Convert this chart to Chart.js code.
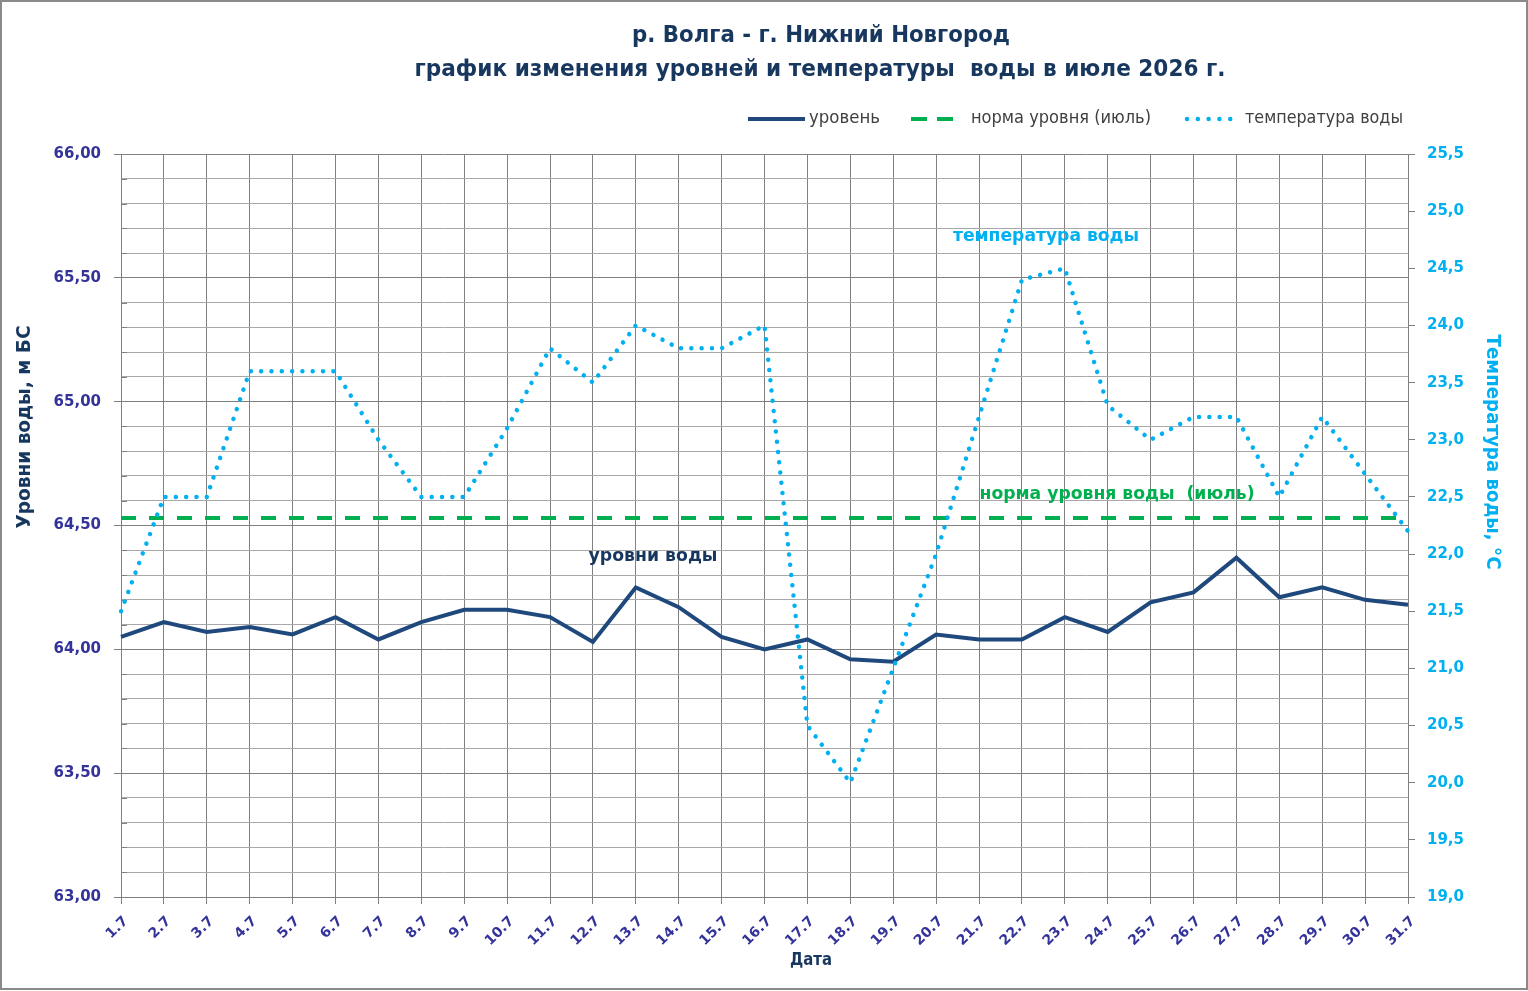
<!DOCTYPE html>
<html>
<head>
<meta charset="utf-8">
<script src="https://cdn.jsdelivr.net/npm/chart.js@4.4.1/dist/chart.umd.min.js"></script>
<style>
  html, body { margin: 0; padding: 0; background: #ffffff; overflow: hidden; }
  #wrap { width: 1528px; height: 991px; position: relative; }
</style>
</head>
<body>
<div id="wrap"><canvas id="c"></canvas></div>
<script>
// ---- data ----
const dates = ['1.7','2.7','3.7','4.7','5.7','6.7','7.7','8.7','9.7','10.7','11.7','12.7','13.7','14.7','15.7','16.7',
               '17.7','18.7','19.7','20.7','21.7','22.7','23.7','24.7','25.7','26.7','27.7','28.7','29.7','30.7','31.7'];
const levelValues = [64.05, 64.11, 64.07, 64.09, 64.06, 64.13, 64.04, 64.11, 64.16, 64.16, 64.13, 64.03, 64.25, 64.17, 64.05, 64.00,
                     64.04, 63.96, 63.95, 64.06, 64.04, 64.04, 64.13, 64.07, 64.19, 64.23, 64.37, 64.21, 64.25, 64.20, 64.18];
const normValues = [64.53, 64.53, 64.53, 64.53, 64.53, 64.53, 64.53, 64.53, 64.53, 64.53, 64.53, 64.53, 64.53, 64.53, 64.53, 64.53,
                    64.53, 64.53, 64.53, 64.53, 64.53, 64.53, 64.53, 64.53, 64.53, 64.53, 64.53, 64.53, 64.53, 64.53, 64.53];
const tempValues = [21.5, 22.5, 22.5, 23.6, 23.6, 23.6, 23.0, 22.5, 22.5, 23.1, 23.8, 23.5, 24.0, 23.8, 23.8, 24.0,
                    20.5, 20.0, 21.0, 22.0, 23.2, 24.4, 24.5, 23.3, 23.0, 23.2, 23.2, 22.5, 23.2, 22.7, 22.2];
const seriesNames = ['уровень', 'норма уровня (июль)', 'температура воды'];
const titleLines = ['р. Волга - г. Нижний Новгород', 'график изменения уровней и температуры  воды в июле 2026 г.'];
const levelAxisTitle = 'Уровни воды, м БС';
const tempAxisTitle = 'Температура воды, °C';
const xAxisTitle = 'Дата';
const annotations = ['температура воды', 'норма уровня воды  (июль)', 'уровни воды'];

// ---- styles ----
const NAVY = '#1F497D';
const TITLE_NAVY = '#17375E';
const GREEN = '#00B050';
const CYAN = '#00B0F0';
const TICK_BLUE = '#333399';
const GRID_MAJOR = '#808080';
const GRID_MINOR = '#a8a8a8';
const FONT = '"DejaVu Sans", Verdana, sans-serif';

function isHalf(v) { return Math.abs(v * 2 - Math.round(v * 2)) < 1e-6; }

function fitText(ctx, text, x, y, o) {
  ctx.save();
  ctx.translate(x, y);
  if (o.rot) ctx.rotate(o.rot);
  ctx.font = o.font;
  ctx.fillStyle = o.color;
  ctx.textBaseline = 'middle';
  ctx.textAlign = o.align || 'center';
  const w = ctx.measureText(text).width;
  if (o.width) ctx.scale(o.width / w, 1);
  ctx.fillText(text, 0, 0);
  ctx.restore();
}

// minor tick marks just inside the left axis
const minorTickPlugin = {
  id: 'minorTicks',
  beforeDatasetsDraw(chart) {
    const ctx = chart.ctx;
    const ys = chart.scales.y;
    ctx.save();
    ctx.strokeStyle = GRID_MAJOR;
    ctx.lineWidth = 1;
    ys.ticks.forEach((t, i) => {
      if (isHalf(t.value)) return;
      const py = Math.round(ys.getPixelForTick(i)) + 0.5;
      ctx.beginPath(); ctx.moveTo(ys.right, py); ctx.lineTo(ys.right + 6, py); ctx.stroke();
    });
    ctx.restore();
  }
};

const decorPlugin = {
  id: 'decor',
  afterDraw(chart) {
    const ctx = chart.ctx;
    // titles
    fitText(ctx, titleLines[0], 821, 36, {font: 'bold 23px ' + FONT, color: TITLE_NAVY, width: 378});
    fitText(ctx, titleLines[1], 820, 70, {font: 'bold 23px ' + FONT, color: TITLE_NAVY, width: 811});
    // legend
    const ds = chart.data.datasets;
    const ly = 119;
    ctx.save();
    ctx.lineWidth = 4;
    ctx.strokeStyle = ds[0].borderColor;
    ctx.beginPath(); ctx.moveTo(748, ly); ctx.lineTo(805, ly); ctx.stroke();
    ctx.strokeStyle = ds[1].borderColor;
    ctx.setLineDash([16, 10]);
    ctx.beginPath(); ctx.moveTo(911, ly); ctx.lineTo(955, ly); ctx.stroke();
    ctx.strokeStyle = ds[2].borderColor;
    ctx.lineCap = 'round';
    ctx.lineWidth = 4.5;
    ctx.setLineDash([0.01, 10.8]);
    ctx.beginPath(); ctx.moveTo(1187, ly); ctx.lineTo(1241, ly); ctx.stroke();
    ctx.restore();
    fitText(ctx, seriesNames[0], 809, ly, {font: '17px ' + FONT, color: '#404040', align: 'left', width: 71});
    fitText(ctx, seriesNames[1], 971, ly, {font: '17px ' + FONT, color: '#404040', align: 'left', width: 180});
    fitText(ctx, seriesNames[2], 1245, ly, {font: '17px ' + FONT, color: '#404040', align: 'left', width: 158});
    // axis titles
    fitText(ctx, levelAxisTitle, 25, 427, {font: 'bold 20px ' + FONT, color: TITLE_NAVY, width: 203, rot: -Math.PI / 2});
    fitText(ctx, tempAxisTitle, 1492, 452, {font: 'bold 20px ' + FONT, color: CYAN, width: 235, rot: Math.PI / 2});
    fitText(ctx, xAxisTitle, 811, 961, {font: 'bold 17px ' + FONT, color: TITLE_NAVY, width: 42});
    // in-chart labels
    fitText(ctx, annotations[0], 1046, 236, {font: 'bold 18px ' + FONT, color: CYAN, width: 186});
    fitText(ctx, annotations[1], 1117, 494, {font: 'bold 18px ' + FONT, color: GREEN, width: 275});
    fitText(ctx, annotations[2], 653, 556, {font: 'bold 18px ' + FONT, color: TITLE_NAVY, width: 129});
    // outer border
    ctx.save();
    ctx.strokeStyle = '#8a8a8a';
    ctx.lineWidth = 2;
    ctx.strokeRect(1, 1, chart.width - 2, chart.height - 3);
    ctx.restore();
  }
};

const bgPlugin = {
  id: 'bg',
  beforeDraw(chart) {
    const ctx = chart.ctx;
    ctx.save();
    ctx.fillStyle = '#ffffff';
    ctx.fillRect(0, 0, chart.width, chart.height);
    ctx.restore();
  }
};

new Chart(document.getElementById('c'), {
  type: 'line',
  data: {
    labels: dates,
    datasets: [
      { label: seriesNames[0], data: levelValues, yAxisID: 'y', borderColor: NAVY, backgroundColor: NAVY,
        borderWidth: 4, pointRadius: 0, tension: 0, order: 2, borderJoinStyle: 'miter' },
      { label: seriesNames[1], data: normValues, yAxisID: 'y', borderColor: GREEN, backgroundColor: GREEN,
        borderWidth: 4, borderDash: [15, 13], pointRadius: 0, tension: 0, order: 1 },
      { label: seriesNames[2], data: tempValues, yAxisID: 'y1', borderColor: CYAN, backgroundColor: CYAN,
        borderWidth: 4.5, borderDash: [0.01, 10.3], borderCapStyle: 'round', pointRadius: 0, tension: 0, order: 0 }
    ]
  },
  options: {
    responsive: true,
    maintainAspectRatio: false,
    animation: false,
    devicePixelRatio: 1,
    layout: { padding: { top: 154, left: 0, right: 0, bottom: 0 } },
    plugins: { legend: { display: false }, title: { display: false }, tooltip: { enabled: false } },
    scales: {
      x: {
        type: 'category',
        offset: false,
        grid: { color: GRID_MAJOR, lineWidth: 1, drawTicks: true, tickLength: 7, tickColor: GRID_MAJOR },
        border: { color: GRID_MAJOR, width: 1 },
        ticks: { autoSkip: false, minRotation: 45, maxRotation: 45, color: TICK_BLUE, padding: 9, labelOffset: 5,
                 font: { family: FONT, weight: 'bold', size: 14 } },
        afterFit(scale) { scale.height = 94; }
      },
      y: {
        position: 'left',
        min: 63, max: 66,
        grid: {
          color: (c) => (c.tick && isHalf(c.tick.value)) ? GRID_MAJOR : GRID_MINOR,
          tickColor: (c) => (c.tick && isHalf(c.tick.value)) ? GRID_MAJOR : 'rgba(0,0,0,0)',
          lineWidth: 1, tickLength: 7
        },
        border: { color: GRID_MAJOR, width: 1 },
        ticks: {
          stepSize: 0.1, color: TICK_BLUE, padding: 13,
          font: { family: FONT, weight: 'bold', size: 15 },
          callback: (v) => isHalf(v) ? Number(v).toFixed(2).replace('.', ',') : ''
        },
        afterFit(scale) { scale.width = 121; }
      },
      y1: {
        position: 'right',
        min: 19, max: 25.5,
        grid: { drawOnChartArea: false, tickLength: 7, tickColor: GRID_MAJOR },
        border: { color: GRID_MAJOR, width: 1 },
        ticks: {
          stepSize: 0.5, color: CYAN, padding: 12,
          font: { family: FONT, weight: 'bold', size: 15 },
          callback: (v) => Number(v).toFixed(1).replace('.', ',')
        },
        afterFit(scale) { scale.width = 120; }
      }
    }
  },
  plugins: [bgPlugin, minorTickPlugin, decorPlugin]
});
</script>
</body>
</html>
